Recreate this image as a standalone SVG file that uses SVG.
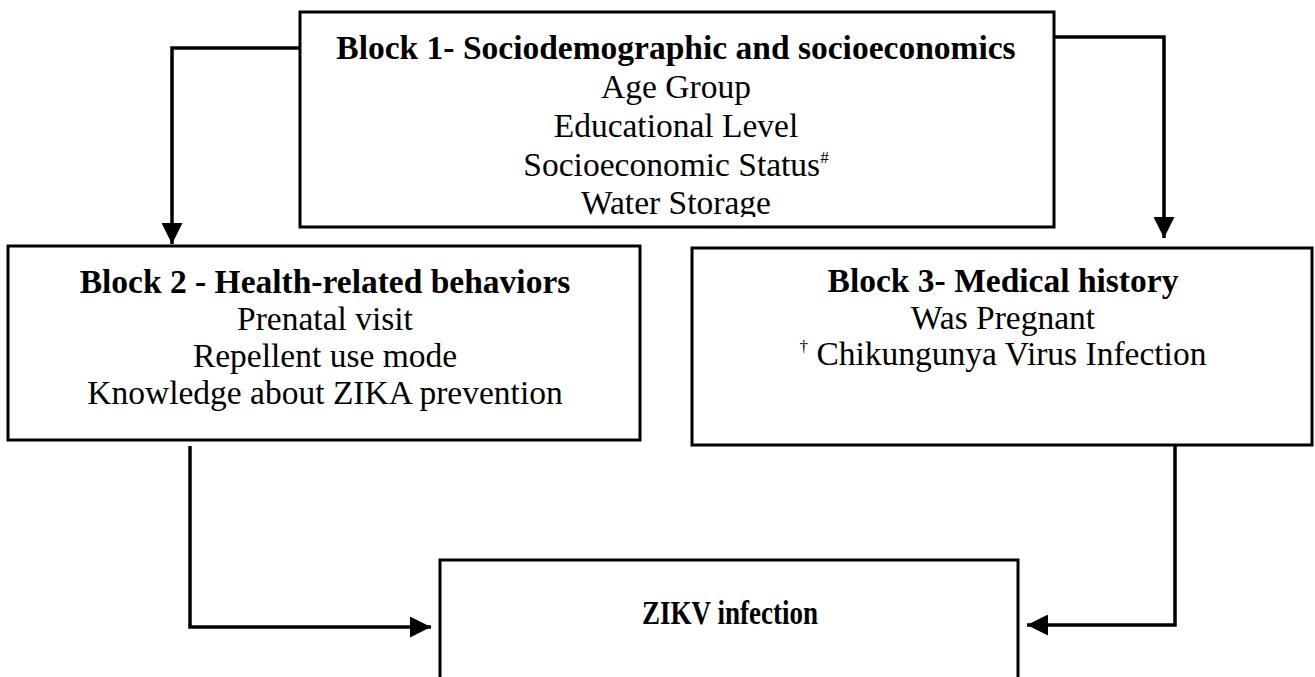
<svg xmlns="http://www.w3.org/2000/svg" width="1315" height="677" viewBox="0 0 1315 677">
<defs>
<marker id="arr" viewBox="0 0 10 10" refX="10" refY="5" markerWidth="6" markerHeight="6" markerUnits="strokeWidth" orient="auto">
<path d="M0,0 L10,5 L0,10 z" fill="#000"/>
</marker>
<clipPath id="clipW"><rect x="300" y="150" width="754" height="67"/></clipPath>
</defs>
<style>
.box{fill:#fff;stroke:#000;stroke-width:3}
.t{font-family:"Liberation Serif","Times New Roman",serif;font-size:33.5px;fill:#000;text-anchor:middle}
.b{font-weight:bold}
.sup{font-size:17px}
.c{fill:none;stroke:#000;stroke-width:3.5}
</style>
<rect width="1315" height="677" fill="#fff"/>
<g id="connectors">
<path class="c" d="M300,48 H172 V244" marker-end="url(#arr)"/>
<path class="c" d="M1054,37 H1164 V238" marker-end="url(#arr)"/>
<path class="c" d="M190,446 V627 H431" marker-end="url(#arr)"/>
<path class="c" d="M1175,446 V625 H1027" marker-end="url(#arr)"/>
</g>
<g id="block1">
<rect class="box" x="300" y="12" width="754" height="215"/>
<text class="t b" x="676" y="59">Block 1- Sociodemographic and socioeconomics</text>
<text class="t" x="676" y="98">Age Group</text>
<text class="t" x="676" y="137">Educational Level</text>
<text class="t" x="676" y="176">Socioeconomic Status<tspan class="sup" dy="-13">#</tspan></text>
<text class="t" x="676" y="214" clip-path="url(#clipW)">Water Storage</text>
</g>
<g id="block2">
<rect class="box" x="8" y="246" width="632" height="194"/>
<text class="t b" x="325" y="293">Block 2 - Health-related behaviors</text>
<text class="t" x="325" y="330">Prenatal visit</text>
<text class="t" x="325" y="367">Repellent use mode</text>
<text class="t" x="325" y="404">Knowledge about ZIKA prevention</text>
</g>
<g id="block3">
<rect class="box" x="692" y="248" width="620" height="197"/>
<text class="t b" x="1003" y="292">Block 3- Medical history</text>
<text class="t" x="1003" y="329">Was Pregnant</text>
<text class="t" x="1003" y="365"><tspan class="sup" dy="-13">†</tspan><tspan dy="13"> Chikungunya Virus Infection</tspan></text>
</g>
<g id="zikv">
<rect class="box" x="440" y="560" width="578" height="130"/>
<text class="t b" x="730" y="624" font-size="30" textLength="176" lengthAdjust="spacingAndGlyphs">ZIKV infection</text>
</g>
</svg>
